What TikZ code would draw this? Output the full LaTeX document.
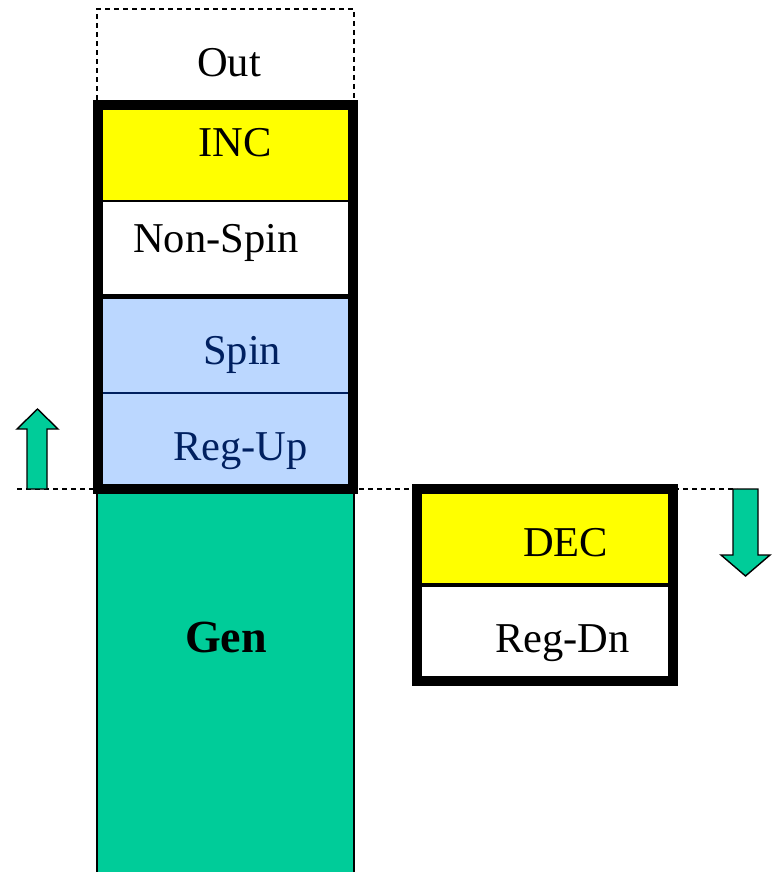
\documentclass[tikz,border=0pt]{standalone}
\usepackage{fontspec}
\setmainfont{Liberation Serif}
\definecolor{incyellow}{RGB}{255,255,0}
\definecolor{spinblue}{RGB}{187,215,255}
\definecolor{gengreen}{RGB}{0,204,153}
\definecolor{navy}{RGB}{0,32,96}
\tikzset{
  lbl/.style={anchor=base west, inner sep=0pt, font=\fontsize{42.5}{50}\selectfont},
  thickbox/.style={draw=black, line width=10pt},
  thinline/.style={draw=black, line width=1.5pt},
  dashline/.style={draw=black, dashed, dash pattern=on 5pt off 4pt, line width=1.4pt},
  arrowshape/.style={fill=gengreen, draw=black, line width=1.4pt, line join=miter}
}
\begin{document}
\begin{tikzpicture}[x=1pt,y=-1pt]
\useasboundingbox (0,0) rectangle (775,872);
% fills
\fill[incyellow] (98,105) rectangle (353,201);
\fill[white] (98,201) rectangle (353,296);
\fill[spinblue] (98,296) rectangle (353,489);
\fill[gengreen] (97,489) rectangle (354,872);
\draw[thinline] (97,872) -- (97,489) -- (354,489) -- (354,872);
\fill[incyellow] (417,489) rectangle (673,585);
\fill[white] (417,585) rectangle (673,681);
% dashed Out box
\draw[dashline] (97,100) -- (97,9) -- (354,9) -- (354,100);
% dashed baseline
\draw[dashline] (17,489) -- (737,489);
% inner lines
\draw[thinline] (98,201) -- (353,201);
\draw[black, line width=5pt] (98,296) -- (353,296);
\draw[navy, line width=2.5pt] (98,393) -- (353,393);
\draw[black, line width=3.5pt] (417,585) -- (673,585);
% thick boxes
\draw[thickbox] (98,105) rectangle (353,489);
\draw[thickbox] (417,489) rectangle (673,681);
% arrows
\draw[arrowshape] (27,489) -- (27,429) -- (17,429) -- (37.5,409) -- (58,429) -- (47,429) -- (47,489) -- cycle;
\draw[arrowshape] (733,489) -- (758,489) -- (758,555) -- (770,555) -- (745.5,576) -- (721,555) -- (733,555) -- cycle;
% labels
\node[lbl] (out) at (197,77) {Out};
\node[lbl] (inc) at (198,157) {INC};
\node[lbl] (nonspin) at (133,252) {Non-Spin};
\node[lbl, text=navy] (spin) at (203,364) {Spin};
\node[lbl, text=navy] (regup) at (173,460) {Reg-Up};
\node[lbl, font=\fontsize{46}{54}\selectfont\bfseries] (gen) at (185,652) {Gen};
\node[lbl] (dec) at (523,556) {DEC};
\node[lbl] (regdn) at (495,652) {Reg-Dn};
\end{tikzpicture}
\end{document}
